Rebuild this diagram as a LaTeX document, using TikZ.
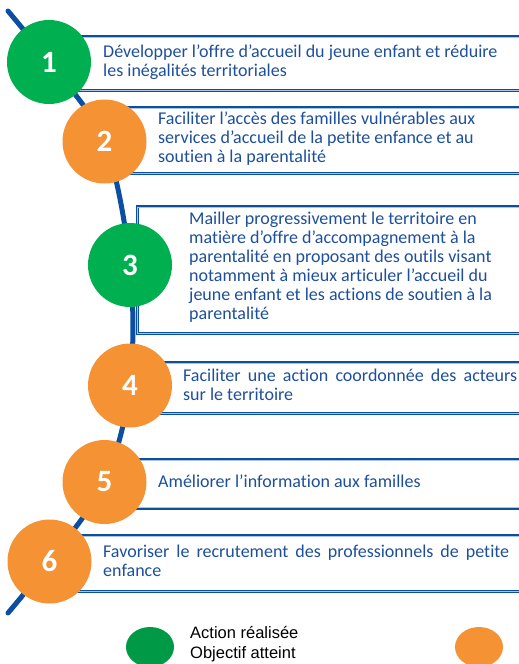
\documentclass[tikz,border=0pt]{standalone}
\usepackage{fontspec}
\setmainfont{Carlito}[Ligatures={NoCommon}]
\newfontfamily\legendfont{Liberation Sans}
\usetikzlibrary{shapes.geometric}
\definecolor{lineblue}{HTML}{0A4FA0}
\definecolor{lightline}{HTML}{A9C4E4}
\definecolor{txtblue}{HTML}{1D4F9B}
\definecolor{cgreen}{HTML}{00B050}
\definecolor{corange}{HTML}{F59233}
\definecolor{lgreen}{HTML}{009A46}
\begin{document}
\begin{tikzpicture}[x=1pt,y=-1pt,
  boxframe/.style={draw=lineblue, line width=3pt, anchor=north west, inner sep=0pt, minimum width=480pt},
  innerline/.style={draw=lightline, line width=1pt},
  boxtext/.style={text=txtblue, font=\fontsize{18}{19}\selectfont, align=left, anchor=base west, inner sep=0pt},
  numcircle/.style={circle, minimum size=84pt, inner sep=0pt, text=white, font=\bfseries\fontsize{31}{31}\selectfont},
  spine/.style={draw=lineblue, line width=5pt, line cap=round},
  legendmark/.style={ellipse, minimum width=48pt, minimum height=40pt, inner sep=0pt},
  legendtext/.style={font=\legendfont\fontsize{16.5}{20}\selectfont, align=left, anchor=base west, inner sep=0pt}
]
\useasboundingbox (0,0) rectangle (519,664);
\clip (0,0) rectangle (519,664);

% boxes
\node[boxframe, minimum height=54pt] (b1) at (60,35) {};
\node[boxframe, minimum height=66pt] (b2) at (104,106) {};
\node[boxframe, minimum height=127pt] (b3) at (135.5,205) {};
\node[boxframe, minimum height=51pt] (b4) at (130,361) {};
\node[boxframe, minimum height=48.5pt] (b5) at (104,458) {};
\node[boxframe, minimum height=56pt] (b6) at (49,534) {};
\foreach \b in {b1,b2,b3,b4,b5,b6}{
  \draw[innerline] ([shift={(2,2)}]\b.north west) rectangle ([shift={(-2,-2)}]\b.south east);
}

% circle positions
\coordinate (s0) at (8,11);
\coordinate (s1) at (8,613);
\coordinate (p1) at (49,62);
\coordinate (p2) at (104.5,141.5);
\coordinate (p3) at (130,265);
\coordinate (p4) at (130,385.5);
\coordinate (p5) at (104.5,482);
\coordinate (p6) at (49.5,561.5);

\draw[spine] plot[smooth, tension=0.55] coordinates {(s0) (p1) (p2) (p3) (p4) (p5) (p6) (s1)};

\node[numcircle, fill=cgreen] (c1) at (p1) {1};
\node[numcircle, fill=corange] (c2) at (p2) {2};
\node[numcircle, fill=cgreen] (c3) at (p3) {3};
\node[numcircle, fill=corange] (c4) at (p4) {4};
\node[numcircle, fill=corange] (c5) at (p5) {5};
\node[numcircle, fill=corange] (c6) at (p6) {6};

% texts (anchored at the baseline of their last line)
\node[boxtext] (t1) at (103,76) {Développer l’offre d’accueil du jeune enfant et réduire\\les inégalités territoriales};
\node[boxtext] (t2) at (158,162) {Faciliter l’accès des familles vulnérables aux\\services d’accueil de la petite enfance et au\\soutien à la parentalité};
\node[boxtext] (t3) at (189,319) {Mailler progressivement le territoire en\\matière d’offre d’accompagnement à la\\parentalité en proposant des outils visant\\notamment à mieux articuler l’accueil du\\jeune enfant et les actions de soutien à la\\parentalité};
\node[boxtext] (t4) at (183,400) {\makebox[334pt][s]{Faciliter une action coordonnée des acteurs}\\sur le territoire};
\node[boxtext] (t5) at (158,487) {Améliorer l’information aux familles};
\node[boxtext] (t6) at (103,576) {\makebox[406pt][s]{Favoriser le recrutement des professionnels de petite}\\enfance};

% legend
\node[legendmark, fill=lgreen] (lg) at (150,647) {};
\node[legendmark, fill=corange] (lo) at (479,647) {};
\node[legendtext] (lt) at (190,658) {Action réalisée\\Objectif atteint};
\end{tikzpicture}
\end{document}
